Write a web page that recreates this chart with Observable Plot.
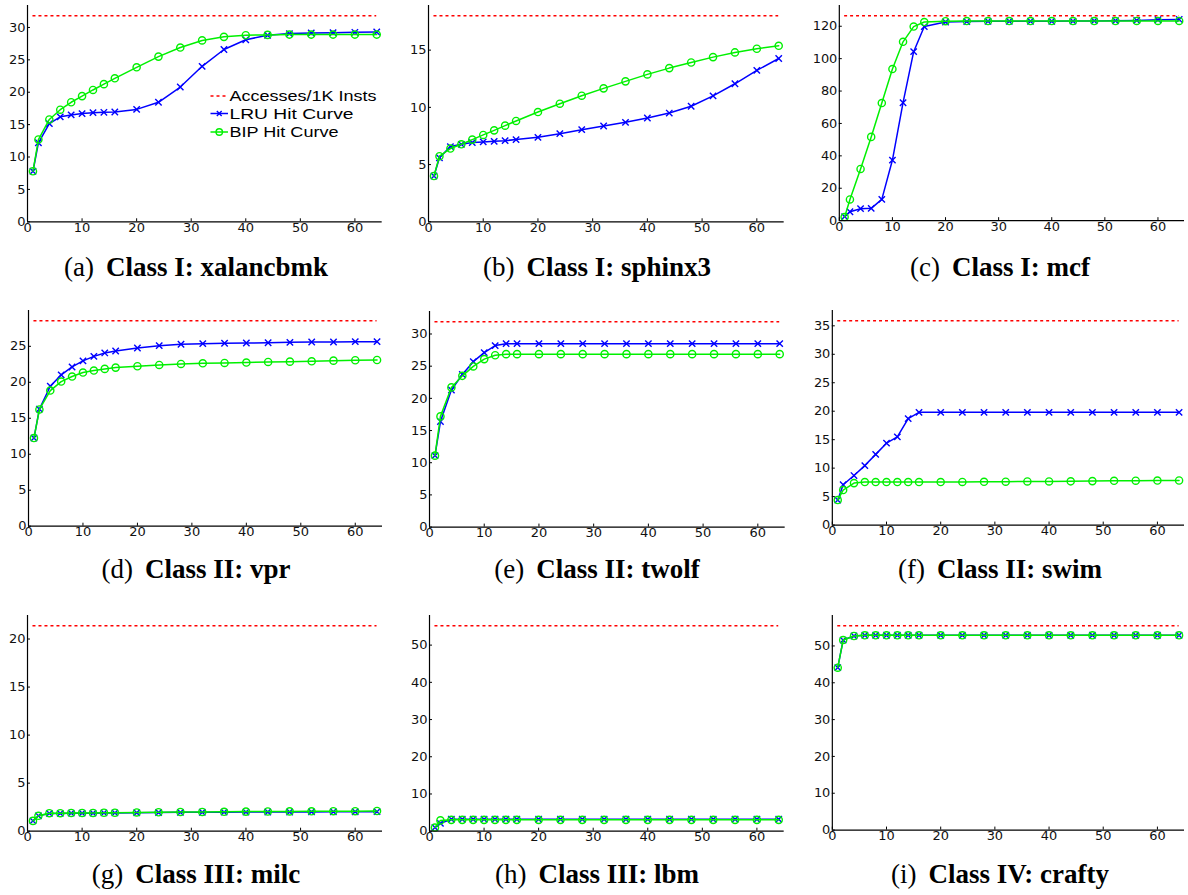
<!DOCTYPE html>
<html>
<head>
<meta charset="utf-8">
<script src="https://cdn.jsdelivr.net/npm/d3@7"></script>
<script src="https://cdn.jsdelivr.net/npm/@observablehq/plot@0.6"></script>
<style>
  html, body { margin: 0; padding: 0; background: #fff; }
  body { width: 1188px; height: 895px; position: relative; overflow: hidden; }
  .panel { position: absolute; }
  #overlay { position: absolute; left: 0; top: 0; pointer-events: none; }
</style>
</head>
<body>
<script>
// ---------- data ----------
const ways = [1, 2, 4, 6, 8, 10, 12, 14, 16, 20, 24, 28, 32, 36, 40, 44, 48, 52, 56, 60, 64];

const benchmarks = ["xalancbmk", "sphinx3", "mcf", "vpr", "twolf", "swim", "milc", "lbm", "crafty"];
const classes    = ["Class I", "Class I", "Class I", "Class II", "Class II", "Class II", "Class III", "Class III", "Class IV"];
const letters    = ["(a)", "(b)", "(c)", "(d)", "(e)", "(f)", "(g)", "(h)", "(i)"];
const accessesPer1K = [31.8, 18.0, 126.5, 28.55, 31.9, 35.9, 21.38, 55.2, 55.5];

const lruXalancbmk = [7.8, 12.2, 15.15, 16.2, 16.5, 16.7, 16.85, 16.9, 16.95, 17.35, 18.45, 20.8, 24.0, 26.6, 28.1, 28.8, 29.05, 29.15, 29.2, 29.25, 29.3];
const bipXalancbmk = [7.8, 12.7, 15.8, 17.3, 18.45, 19.4, 20.35, 21.25, 22.15, 23.85, 25.5, 26.9, 28.0, 28.55, 28.8, 28.85, 28.9, 28.9, 28.9, 28.9, 28.9];

const lruSphinx3 = [4.0, 5.6, 6.57, 6.77, 6.92, 6.98, 7.03, 7.09, 7.18, 7.38, 7.7, 8.05, 8.37, 8.69, 9.07, 9.5, 10.1, 11.0, 12.06, 13.23, 14.27];
const bipSphinx3 = [4.0, 5.73, 6.4, 6.77, 7.18, 7.59, 7.99, 8.4, 8.81, 9.59, 10.32, 11.02, 11.66, 12.27, 12.88, 13.43, 13.92, 14.39, 14.8, 15.12, 15.38];

const lruMcf = [2.5, 5.5, 7.4, 7.6, 13.1, 37.4, 72.8, 104.3, 119.8, 122.6, 122.9, 123.1, 123.1, 123.1, 123.1, 123.2, 123.3, 123.4, 123.6, 124.0, 124.2];
const bipMcf = [2.2, 13.1, 31.9, 51.7, 72.6, 93.6, 110.4, 119.8, 122.6, 123.1, 123.2, 123.2, 123.2, 123.2, 123.2, 123.2, 123.2, 123.2, 123.3, 123.3, 123.3];

const lruVpr = [12.25, 16.27, 19.45, 21.03, 22.13, 22.97, 23.6, 24.08, 24.35, 24.77, 25.09, 25.28, 25.37, 25.42, 25.46, 25.5, 25.55, 25.6, 25.6, 25.65, 25.65];
const bipVpr = [12.25, 16.22, 18.85, 20.1, 20.8, 21.35, 21.63, 21.86, 22.04, 22.23, 22.41, 22.55, 22.64, 22.69, 22.74, 22.83, 22.87, 22.92, 23.01, 23.06, 23.1];

const lruTwolf = [11.1, 16.4, 21.3, 23.7, 25.7, 27.1, 28.2, 28.5, 28.5, 28.5, 28.5, 28.5, 28.5, 28.5, 28.5, 28.5, 28.5, 28.5, 28.5, 28.5, 28.5];
const bipTwolf = [11.1, 17.2, 21.7, 23.5, 24.96, 26.1, 26.7, 26.87, 26.87, 26.87, 26.87, 26.87, 26.87, 26.87, 26.87, 26.87, 26.87, 26.87, 26.87, 26.87, 26.87];

const lruSwim = [4.4, 7.08, 8.7, 10.45, 12.42, 14.39, 15.5, 18.7, 19.8, 19.8, 19.8, 19.8, 19.8, 19.8, 19.8, 19.8, 19.8, 19.8, 19.8, 19.8, 19.8];
const bipSwim = [4.4, 6.15, 7.37, 7.55, 7.55, 7.55, 7.55, 7.55, 7.55, 7.55, 7.58, 7.6, 7.62, 7.66, 7.66, 7.68, 7.72, 7.78, 7.8, 7.82, 7.83];

const lruMilc = [1.07, 1.6, 1.85, 1.85, 1.88, 1.88, 1.88, 1.9, 1.9, 1.92, 1.94, 1.96, 1.97, 1.98, 1.99, 2.0, 2.0, 2.01, 2.02, 2.02, 2.03];
const bipMilc = [1.07, 1.6, 1.87, 1.87, 1.9, 1.9, 1.9, 1.92, 1.92, 1.95, 1.97, 2.0, 2.0, 2.02, 2.04, 2.05, 2.06, 2.07, 2.08, 2.08, 2.1];

const lruLbm = [0.98, 2.1, 3.2, 3.2, 3.2, 3.2, 3.2, 3.2, 3.2, 3.2, 3.2, 3.2, 3.2, 3.2, 3.2, 3.2, 3.2, 3.2, 3.2, 3.2, 3.2];
const bipLbm = [0.98, 2.9, 3.05, 3.05, 3.05, 3.05, 3.05, 3.05, 3.05, 3.05, 3.05, 3.05, 3.05, 3.05, 3.05, 3.05, 3.05, 3.05, 3.05, 3.05, 3.05];

const lruCrafty = [44.1, 51.6, 52.7, 52.9, 52.9, 52.9, 52.9, 52.9, 52.9, 52.9, 52.9, 52.9, 52.9, 52.9, 52.9, 52.9, 52.9, 52.9, 52.9, 52.9, 52.9];
const bipCrafty = [44.1, 51.6, 52.7, 52.9, 52.9, 52.9, 52.9, 52.9, 52.9, 52.9, 52.9, 52.9, 52.9, 52.9, 52.9, 52.9, 52.9, 52.9, 52.9, 52.9, 52.9];

const lruSeries = [lruXalancbmk, lruSphinx3, lruMcf, lruVpr, lruTwolf, lruSwim, lruMilc, lruLbm, lruCrafty];
const bipSeries = [bipXalancbmk, bipSphinx3, bipMcf, bipVpr, bipTwolf, bipSwim, bipMilc, bipLbm, bipCrafty];

const xTicks = [0, 10, 20, 30, 40, 50, 60];
const yTicks = [
  [0, 5, 10, 15, 20, 25, 30],
  [0, 5, 10, 15],
  [0, 20, 40, 60, 80, 100, 120],
  [0, 5, 10, 15, 20, 25],
  [0, 5, 10, 15, 20, 25, 30],
  [0, 5, 10, 15, 20, 25, 30, 35],
  [0, 5, 10, 15, 20],
  [0, 10, 20, 30, 40, 50],
  [0, 10, 20, 30, 40, 50]
];
const legendLabels = ["Accesses/1K Insts", "LRU Hit Curve", "BIP Hit Curve"];

// ---------- layout (page pixels: plot frame left, right, top, bottom) ----------
const frames = [
  [27.3, 382, 4.7, 221], [428.3, 784, 4.7, 221], [839, 1186, 4.7, 221],
  [28, 382, 310, 525.7], [429.3, 785, 310.7, 526.3], [832, 1186, 310, 525.7],
  [27, 382, 615, 830.7], [429.3, 784, 615, 830.7], [832, 1186, 615, 830.7]
];
const captionX = [196, 597, 1000];
const captionBaseline = [276, 578, 883];

const BLUE = "#0000ff", GREEN = "#00f000", RED = "#ff0000";
const mL = 36, mR = 4, mT = 4, mB = 20;
const TICK_FONT = "'DejaVu Sans', sans-serif";

benchmarks.forEach((name, i) => {
  const [L, R, T, B] = frames[i];
  const w = R - L, h = B - T;
  const rows = ways.map((x, j) => ({x, lru: lruSeries[i][j], bip: bipSeries[i][j]}));
  const acc = accessesPer1K[i];
  const plot = Plot.plot({
    width: w + mL + mR,
    height: h + mT + mB,
    marginLeft: mL, marginRight: mR, marginTop: mT, marginBottom: mB,
    x: {domain: [0, 65]},
    y: {domain: [0, acc * 1.05]},
    style: {fontFamily: TICK_FONT, fontSize: "13px", color: "#000", background: "transparent", overflow: "visible"},
    marks: [
      Plot.ruleY([{a: acc}], {y: "a", x1: 1, x2: 64, stroke: RED, strokeWidth: 1.5, strokeDasharray: "3,3"}),
      Plot.line(rows, {x: "x", y: "lru", stroke: BLUE, strokeWidth: 1.5}),
      Plot.dot(rows, {x: "x", y: "lru", symbol: "times", r: 3, stroke: BLUE, strokeWidth: 1.4}),
      Plot.line(rows, {x: "x", y: "bip", stroke: GREEN, strokeWidth: 1.5}),
      Plot.dot(rows, {x: "x", y: "bip", symbol: "circle", r: 3.6, stroke: GREEN, fill: "none", strokeWidth: 1.4}),
      Plot.ruleX([0], {stroke: "#000", strokeWidth: 1.2}),
      Plot.ruleY([0], {stroke: "#000", strokeWidth: 1.2}),
      Plot.axisX({ticks: xTicks, tickSize: -3, tickPadding: 4, tickFormat: d => d, label: null, stroke: "#000",
        fontSize: 13, fontFamily: TICK_FONT, fill: "#111"}),
      Plot.axisY({ticks: yTicks[i], tickSize: -3, tickPadding: 5, tickFormat: d => d, label: null, stroke: "#000",
        fontSize: 13, fontFamily: TICK_FONT, fill: "#111"})
    ]
  });
  const div = document.createElement("div");
  div.className = "panel";
  div.style.left = (L - mL) + "px";
  div.style.top = (T - mT) + "px";
  div.appendChild(plot);
  document.body.appendChild(div);
});

// ---------- captions + legend overlay ----------
const ns = "http://www.w3.org/2000/svg";
const ov = document.createElementNS(ns, "svg");
ov.setAttribute("id", "overlay");
ov.setAttribute("width", 1188);
ov.setAttribute("height", 895);
document.body.appendChild(ov);

function el(tag, attrs, parent) {
  const e = document.createElementNS(ns, tag);
  for (const k in attrs) e.setAttribute(k, attrs[k]);
  (parent || ov).appendChild(e);
  return e;
}

benchmarks.forEach((name, i) => {
  const col = i % 3, row = Math.floor(i / 3);
  const t = el("text", {x: captionX[col], y: captionBaseline[row], "text-anchor": "middle",
    "font-family": "'Liberation Serif', serif", "font-size": 27, fill: "#000"});
  const s1 = el("tspan", {}, t); s1.textContent = letters[i];
  const s2 = el("tspan", {dx: 12, "font-weight": "bold"}, t); s2.textContent = classes[i] + ": " + name;
});

// legend inside panel (a)
const legendRows = [96, 113.5, 132];
const legendWidths = [147, 124, 109];
const lx0 = 210.5, lx1 = 228, tx = 229.5;
el("line", {x1: lx0, x2: lx1, y1: legendRows[0], y2: legendRows[0], stroke: RED, "stroke-width": 1.5, "stroke-dasharray": "3,3"});
el("line", {x1: lx0, x2: lx1, y1: legendRows[1], y2: legendRows[1], stroke: BLUE, "stroke-width": 1.5});
const cx = (lx0 + lx1) / 2, r = 2.4;
el("path", {d: `M${cx - r},${legendRows[1] - r}L${cx + r},${legendRows[1] + r}M${cx - r},${legendRows[1] + r}L${cx + r},${legendRows[1] - r}`, stroke: BLUE, "stroke-width": 1.4});
el("line", {x1: lx0, x2: lx1, y1: legendRows[2], y2: legendRows[2], stroke: GREEN, "stroke-width": 1.5});
el("circle", {cx: cx, cy: legendRows[2], r: 3.2, stroke: GREEN, fill: "none", "stroke-width": 1.4});
legendLabels.forEach((lab, k) => {
  const t = el("text", {x: tx, y: legendRows[k] + 5, "font-family": "'Liberation Sans', sans-serif", "font-size": 14,
    fill: "#000", textLength: legendWidths[k], lengthAdjust: "spacingAndGlyphs"});
  t.textContent = lab;
});
</script>
</body>
</html>
